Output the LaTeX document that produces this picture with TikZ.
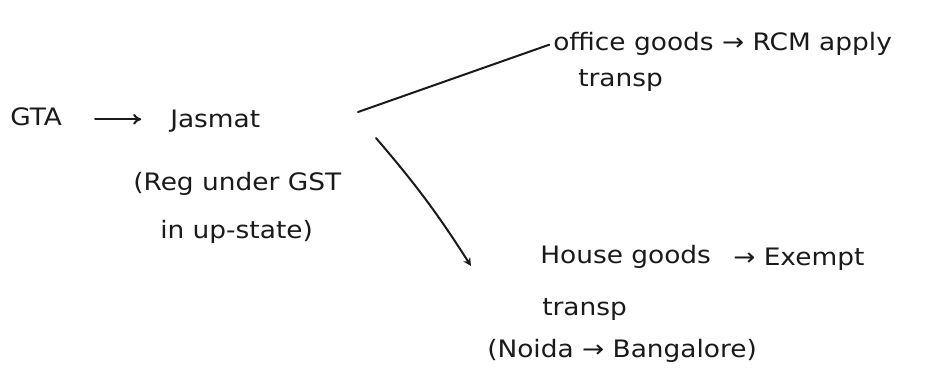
\documentclass[tikz,border=0pt]{standalone}
\usepackage{fontspec}
\setmainfont[FakeStretch=1.1]{DejaVu Sans}
\usetikzlibrary{arrows.meta}
\definecolor{ink}{HTML}{1A1A1A}
\begin{document}
\begin{tikzpicture}[x=0.75pt,y=-0.75pt,
    note/.style={inner sep=0pt,anchor=base west,text=ink,font=\fontsize{18}{22}\selectfont},
    link/.style={draw=ink,line width=1.5pt,line cap=round}]
  \useasboundingbox[fill=white] (0,0) rectangle (951,387);
  % who pays
  \node[note] (gta) at (10,125) {GTA};
  \node[note] (jasmat) at (170,127) {Jasmat};
  \node[note] (reg) at (133,190) {(Reg under GST};
  \node[note] (regb) at (160,238) {in up-state)};
  % the two kinds of goods
  \node[note] (office) at (553,50) {office goods → RCM apply};
  \node[note] (transpa) at (578,86) {transp};
  \node[note] (house) at (540,263) {House goods};
  \node[note] (exempt) at (733,265) {→ Exempt};
  \node[note] (transpb) at (542,315) {transp};
  \node[note] (noida) at (487,357) {(Noida → Bangalore)};
  \coordinate (upstart) at (358,112);
  \coordinate (downstart) at (376,138);
  \coordinate (downend) at (471,266);
  \begin{scope}[link]
    \draw[-{To[length=6pt,width=8pt]}] (gta.east) ++(33,3) coordinate (gtaarrow)
      (gtaarrow) -- ++(46,0);
    \draw[shorten >=3pt] (upstart) -- (office.west);
    \draw[-{Stealth[length=6pt,width=6pt]}] (downstart) to[bend left=4] (downend);
  \end{scope}
\end{tikzpicture}
\end{document}
